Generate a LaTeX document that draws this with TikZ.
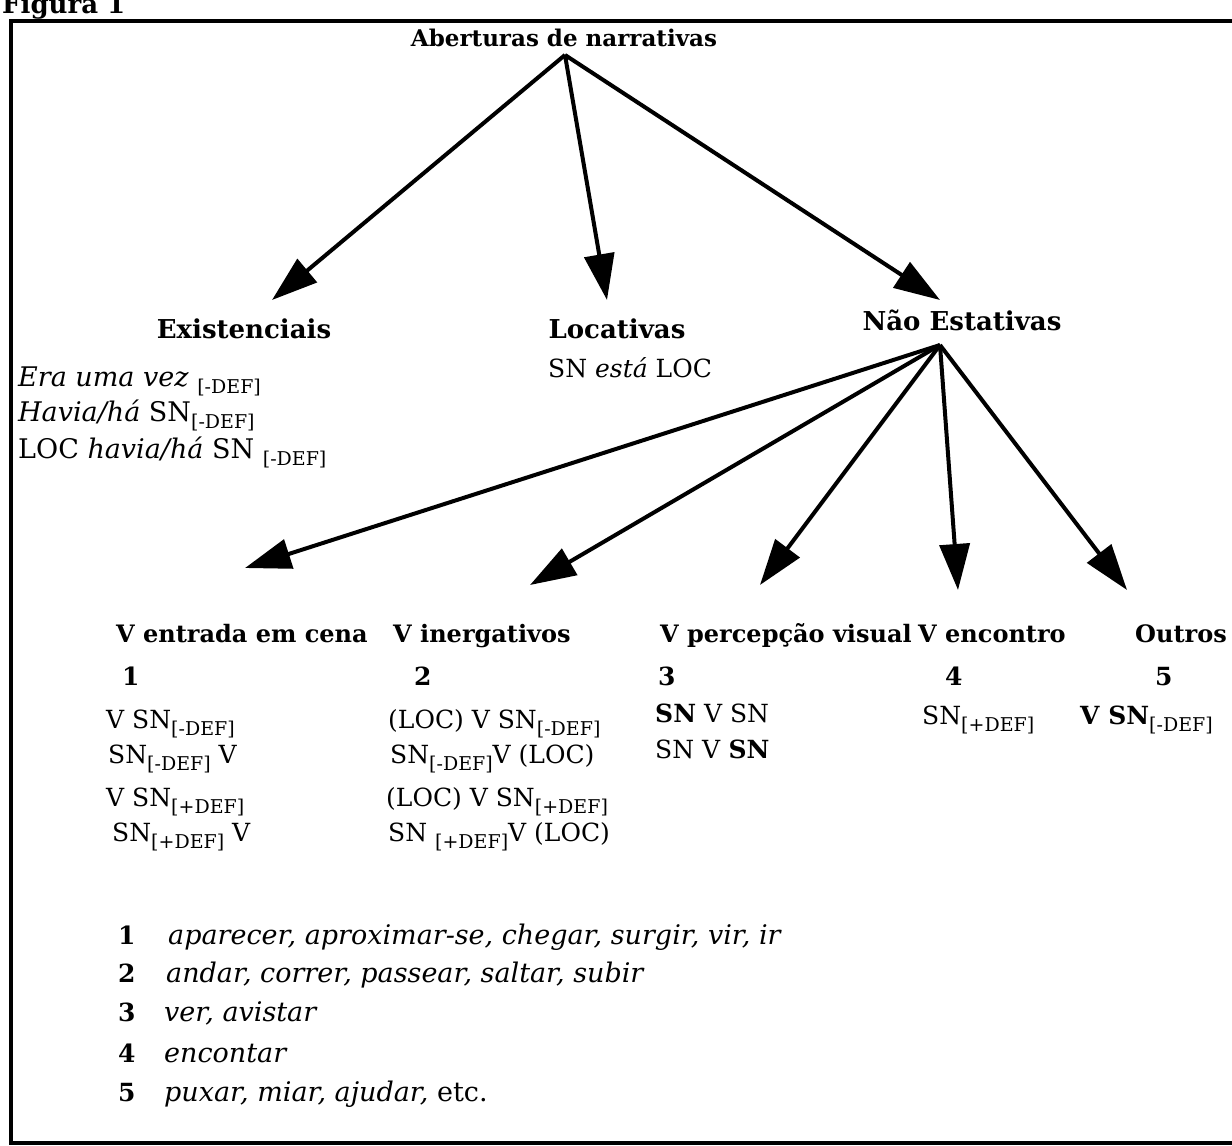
\documentclass[tikz,border=0pt]{standalone}
\usepackage{fontspec}
\setmainfont{DejaVu Serif}
\usetikzlibrary{arrows.meta, positioning}

\newcommand{\dsub}[1]{\raisebox{-0.55ex}{\fontsize{19}{21}\selectfont #1}}

\begin{document}
\begin{tikzpicture}[x=1pt, y=-1pt,
    head/.style={font=\fontsize{26}{30}\selectfont\bfseries, inner sep=0pt, anchor=base},
    lvtwo/.style={font=\fontsize{24}{28}\selectfont\bfseries, inner sep=0pt, anchor=base west},
    body/.style={font=\fontsize{25}{29}\selectfont, inner sep=0pt, anchor=base west},
    bigbody/.style={body, font=\fontsize{27}{31}\selectfont},
    numb/.style={font=\fontsize{25}{29}\selectfont\bfseries, inner sep=0pt, anchor=base west},
    arrow/.style={-{Triangle[length=46pt, width=30pt]}, line width=4pt}
]
\useasboundingbox (0,0) rectangle (1232,1146);

% Frame
\draw[line width=4pt] (11,21) rectangle (1242,1143);
\node[head, anchor=base west] (figura) at (2,13) {Figura 1};

% Root
\node[head, font=\fontsize{23}{27}\selectfont\bfseries] (root) at (564,46) {Aberturas de narrativas};

% First level
\node[head] (exist) at (244,338) {Existenciais};
\node[head] (locat) at (617,338) {Locativas};
\node[head] (naoest) at (962,330) {Não Estativas};

\draw[arrow] ([shift={(1,9)}]root.base) -- ([shift={(28,-38)}]exist.base);
\draw[arrow] ([shift={(1,9)}]root.base) -- ([shift={(-10,-38)}]locat.base);
\draw[arrow] ([shift={(1,9)}]root.base) -- ([shift={(-22,-30)}]naoest.base);

\node[bigbody] (ex1) at (18,386) {\textit{Era uma vez} \dsub{[-DEF]}};
\node[bigbody] (ex2) at (18,421) {\textit{Havia/há} SN\dsub{[-DEF]}};
\node[bigbody] (ex3) at (18,458) {LOC \textit{havia/há} SN \dsub{[-DEF]}};

\node[body] (lc1) at (548,377) {SN \textit{está} LOC};

% Second level
\node[lvtwo] (entrada) at (116,642) {V entrada em cena};
\node[lvtwo] (inerg) at (393,642) {V inergativos};
\node[lvtwo] (percep) at (660,642) {V percepção visual};
\node[lvtwo] (encont) at (918,642) {V encontro};
\node[lvtwo] (outros) at (1135,642) {Outros};

\draw[arrow] ([shift={(-22,15)}]naoest.base) -- ([shift={(129,-74)}]entrada.base west);
\draw[arrow] ([shift={(-22,15)}]naoest.base) -- ([shift={(137,-57)}]inerg.base west);
\draw[arrow] ([shift={(-22,15)}]naoest.base) -- ([shift={(100,-57)}]percep.base west);
\draw[arrow] ([shift={(-22,15)}]naoest.base) -- ([shift={(40,-52)}]encont.base west);
\draw[arrow] ([shift={(-22,15)}]naoest.base) -- ([shift={(-8,-52)}]outros.base west);

\node[numb] (n1) at (122,685) {1};
\node[numb] (n2) at (414,685) {2};
\node[numb] (n3) at (658,685) {3};
\node[numb] (n4) at (945,685) {4};
\node[numb] (n5) at (1155,685) {5};

% Patterns
\node[body] (a1) at (106,728) {V SN\dsub{[-DEF]}};
\node[body] (a2) at (108,763) {SN\dsub{[-DEF]} V};
\node[body] (a3) at (106,806) {V SN\dsub{[+DEF]}};
\node[body] (a4) at (112,841) {SN\dsub{[+DEF]} V};

\node[body] (b1) at (388,728) {(LOC) V SN\dsub{[-DEF]}};
\node[body] (b2) at (390,763) {SN\dsub{[-DEF]}V (LOC)};
\node[body] (b3) at (386,806) {(LOC) V SN\dsub{[+DEF]}};
\node[body] (b4) at (388,841) {SN \dsub{[+DEF]}V (LOC)};

\node[body] (c1) at (655,722) {\textbf{SN} V SN};
\node[body] (c2) at (655,758) {SN V \textbf{SN}};

\node[body] (d1) at (922,724) {SN\dsub{[+DEF]}};

\node[body] (e1) at (1080,724) {\textbf{V SN}\dsub{[-DEF]}};

% Verb list
\node[numb] (k1) at (118,944) {1};
\node[numb] (k2) at (118,982) {2};
\node[numb] (k3) at (118,1021) {3};
\node[numb] (k4) at (118,1062) {4};
\node[numb] (k5) at (118,1101) {5};

\node[bigbody] (v1) at (168,944) {\textit{aparecer, aproximar-se, chegar, surgir, vir, ir}};
\node[bigbody] (v2) at (166,982) {\textit{andar, correr, passear, saltar, subir}};
\node[bigbody] (v3) at (164,1021) {\textit{ver, avistar}};
\node[bigbody] (v4) at (164,1062) {\textit{encontar}};
\node[bigbody] (v5) at (164,1101) {\textit{puxar, miar, ajudar,} etc.};

\end{tikzpicture}
\end{document}
